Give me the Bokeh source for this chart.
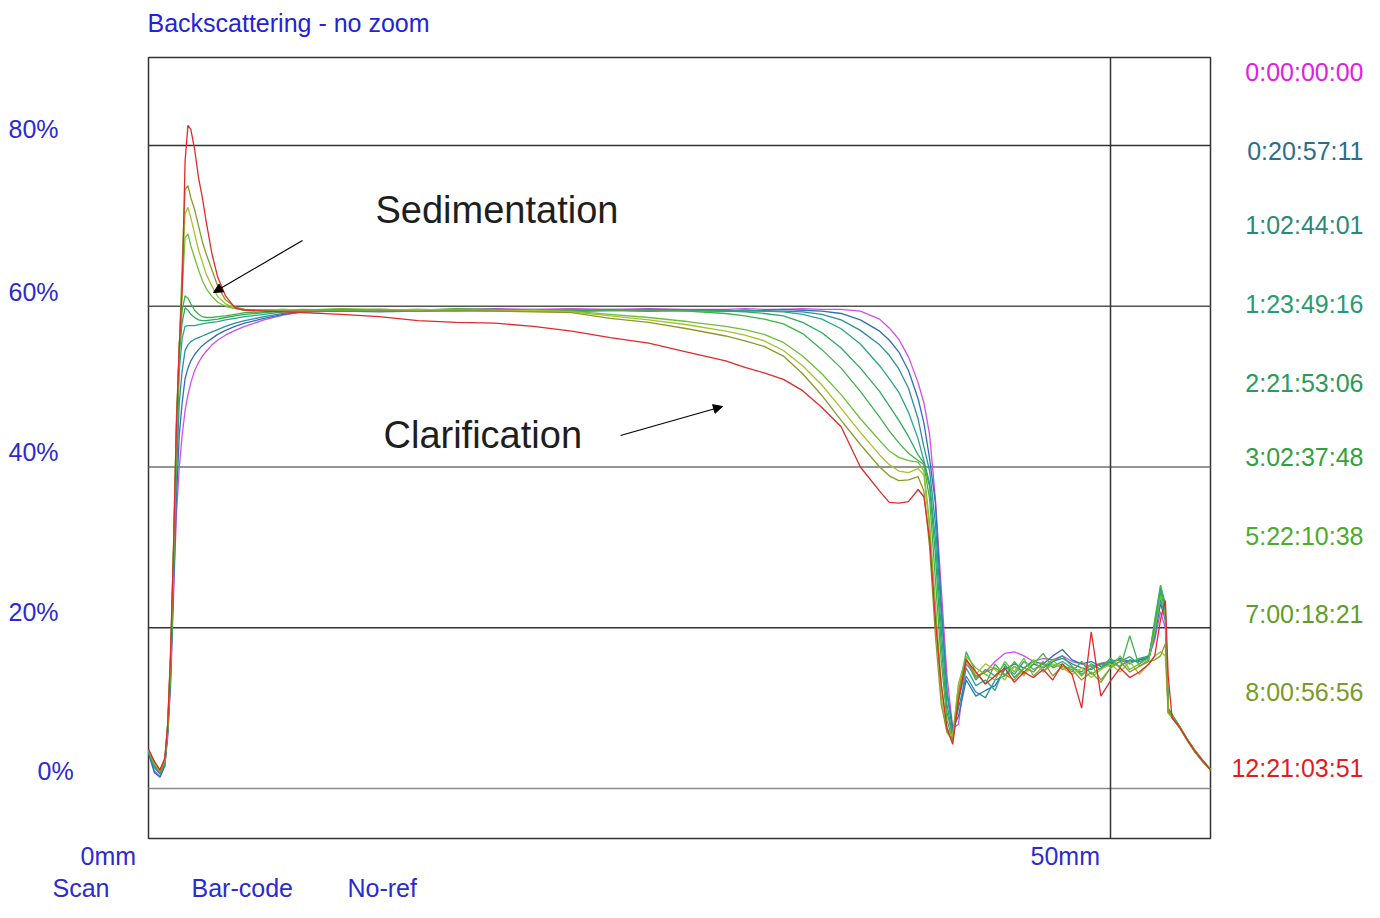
from bokeh.plotting import figure
from bokeh.models import Range1d, Arrow, NormalHead
from bokeh.core.properties import value
from bokeh.embed import file_html
from bokeh.resources import INLINE

# ---------------- data ----------------
position_mm = (
    [0.0, 0.3, 0.6, 0.85, 1.0, 1.15, 1.3, 1.45, 1.6, 1.75, 1.9, 2.05, 2.2, 2.4, 2.6, 2.8, 3.0, 3.3, 3.6, 4.0, 4.5, 5.0]
    + [6, 7, 8, 10, 12, 14, 16, 18, 20, 22, 24, 26, 28]
    + [30, 31, 32, 33, 34, 35, 36, 37, 38, 38.5, 39, 39.5, 40, 40.3, 40.6, 40.9, 41.2, 41.5, 41.8, 42.1]
    + [42.5, 43.0, 43.5, 44.0, 44.5, 45.0, 45.5, 46.0, 46.5, 47.0, 47.5, 48.0, 48.5, 49.0, 49.5, 50.0, 50.5, 51.0, 51.5, 52.0]
    + [52.3, 52.6, 52.85, 53.0, 53.2, 53.6, 54.0, 54.4, 54.8, 55.2]
)

times = ["0:00:00:00", "0:20:57:11", "1:02:44:01", "1:23:49:16", "2:21:53:06",
         "3:02:37:48", "5:22:10:38", "7:00:18:21", "8:00:56:56", "12:21:03:51"]

bs_0_00_00_00 = (
    [4.5, 2.2, 1.5, 2.8, 6.5, 13.0, 24.0, 34.0, 40.0, 44.0, 47.0, 49.0, 50.5, 52.0, 53.0, 53.8, 54.4, 55.2, 55.8, 56.4, 57.0, 57.5]
    + [58.3, 58.9, 59.3, 59.5, 59.6, 59.5, 59.6, 59.7, 59.6, 59.7, 59.6, 59.7, 59.6]
    + [59.6, 59.7, 59.6, 59.6, 59.7, 59.6, 59.6, 59.4, 58.4, 57.3, 55.9, 53.7, 50.5, 48.0, 44.0, 36.0, 25.0, 14.0, 7.5, 8.0]
    + [15.5, 14.0, 14.5, 15.8, 16.8, 17.0, 16.5, 15.8, 16.2, 16.0, 16.5, 15.8, 15.5, 15.2, 15.6, 15.8, 16.0, 15.7, 16.0, 16.4]
    + [18.5, 22.0, 20.0, 9.5, 9.0, 7.6, 6.0, 4.6, 3.4, 2.3]
)
bs_0_20_57_11 = (
    [4.4, 2.0, 1.4, 2.9, 6.8, 13.5, 25.0, 36.0, 44.0, 48.0, 51.0, 52.3, 53.2, 54.0, 54.6, 55.1, 55.5, 56.0, 56.5, 57.0, 57.5, 57.9]
    + [58.5, 59.0, 59.3, 59.4, 59.5, 59.4, 59.5, 59.6, 59.5, 59.4, 59.5, 59.6, 59.5]
    + [59.5, 59.4, 59.5, 59.6, 59.5, 59.4, 59.1, 58.3, 56.9, 55.8, 54.3, 52.0, 48.5, 45.5, 41.0, 35.5, 23.0, 12.0, 7.5, 9.0]
    + [13.5, 11.5, 12.2, 12.8, 14.8, 15.5, 15.0, 15.8, 15.5, 16.5, 17.3, 16.0, 15.5, 15.8, 15.2, 15.5, 16.2, 15.8, 16.0, 16.3]
    + [19.0, 23.0, 21.0, 10.0, 9.2, 7.7, 6.1, 4.7, 3.5, 2.3]
)
bs_1_02_44_01 = (
    [4.6, 2.6, 1.8, 3.1, 7.2, 14.5, 26.0, 39.0, 48.0, 52.0, 54.5, 55.2, 55.6, 55.9, 56.1, 56.3, 56.5, 56.8, 57.1, 57.5, 57.9, 58.2]
    + [58.7, 59.1, 59.3, 59.4, 59.3, 59.4, 59.5, 59.4, 59.5, 59.4, 59.5, 59.4, 59.5]
    + [59.4, 59.5, 59.4, 59.4, 59.3, 59.0, 58.3, 57.0, 55.2, 53.9, 52.2, 49.8, 46.0, 42.5, 39.5, 33.0, 22.0, 12.0, 7.0, 10.0]
    + [14.0, 12.0, 11.3, 13.5, 14.0, 15.2, 14.5, 15.5, 15.0, 15.8, 16.2, 15.5, 15.0, 14.8, 15.5, 15.7, 15.2, 16.0, 15.8, 16.2]
    + [19.5, 23.5, 21.5, 9.8, 9.0, 7.6, 6.0, 4.6, 3.4, 2.3]
)
bs_1_23_49_16 = (
    [4.7, 2.8, 1.9, 3.2, 7.4, 15.0, 27.0, 41.0, 52.0, 56.0, 57.5, 57.6, 57.6, 57.6, 57.7, 57.8, 57.9, 58.0, 58.1, 58.3, 58.5, 58.7]
    + [59.0, 59.3, 59.4, 59.5, 59.4, 59.5, 59.4, 59.5, 59.5, 59.4, 59.5, 59.4, 59.5]
    + [59.4, 59.5, 59.4, 59.3, 59.0, 58.4, 57.2, 55.3, 52.6, 51.0, 49.3, 46.8, 43.5, 40.8, 38.0, 31.0, 20.0, 10.5, 6.5, 11.0]
    + [15.0, 12.8, 13.5, 12.2, 15.2, 14.2, 15.8, 14.8, 15.5, 15.2, 15.8, 15.0, 14.5, 15.5, 14.8, 15.9, 16.0, 15.5, 16.2, 16.5]
    + [20.0, 24.5, 22.0, 9.5, 8.8, 7.5, 6.0, 4.5, 3.3, 2.3]
)
bs_2_21_53_06 = (
    [4.7, 2.9, 2.0, 3.3, 7.5, 15.2, 27.5, 42.0, 54.0, 58.0, 59.8, 59.5, 59.0, 58.6, 58.3, 58.2, 58.2, 58.3, 58.4, 58.6, 58.8, 59.0]
    + [59.2, 59.4, 59.5, 59.4, 59.5, 59.6, 59.5, 59.5, 59.6, 59.5, 59.6, 59.5, 59.5]
    + [59.4, 59.3, 59.1, 58.8, 58.0, 56.7, 54.8, 52.3, 49.4, 47.6, 45.8, 43.8, 41.5, 40.5, 37.5, 29.0, 18.0, 9.5, 6.5, 11.0]
    + [16.0, 13.5, 14.8, 14.0, 15.5, 13.8, 15.0, 16.0, 14.5, 15.8, 16.5, 15.2, 14.2, 15.0, 15.5, 15.2, 15.8, 16.4, 15.5, 16.6]
    + [20.5, 25.0, 22.5, 9.6, 9.0, 7.6, 6.1, 4.6, 3.4, 2.3]
)
bs_3_02_37_48 = (
    [4.8, 3.0, 2.1, 3.4, 7.6, 15.5, 28.0, 43.0, 55.0, 59.5, 61.3, 61.0, 60.3, 59.5, 59.0, 58.7, 58.6, 58.6, 58.7, 58.8, 59.0, 59.2]
    + [59.3, 59.5, 59.6, 59.5, 59.6, 59.5, 59.7, 59.6, 59.5, 59.6, 59.5, 59.5, 59.4]
    + [59.1, 58.8, 58.4, 57.8, 56.6, 54.6, 52.3, 49.4, 46.2, 44.5, 43.0, 41.7, 40.8, 40.3, 36.0, 26.0, 16.0, 8.5, 6.0, 12.0]
    + [17.0, 14.5, 13.0, 15.5, 14.0, 15.8, 14.2, 15.5, 16.8, 15.0, 15.5, 14.5, 15.8, 14.2, 15.0, 16.2, 15.0, 19.0, 15.2, 16.0]
    + [21.0, 25.3, 23.0, 9.8, 9.2, 7.7, 6.0, 4.5, 3.4, 2.3]
)
bs_5_22_10_38 = (
    [4.8, 3.1, 2.2, 3.5, 7.8, 16.0, 29.0, 44.0, 55.0, 62.0, 68.5, 69.0, 67.5, 66.0, 64.5, 63.2, 62.2, 61.2, 60.5, 60.0, 59.7, 59.5]
    + [59.5, 59.6, 59.5, 59.7, 59.6, 59.5, 59.6, 59.5, 59.4, 59.4, 59.0, 58.6, 58.1]
    + [57.5, 57.1, 56.5, 55.5, 53.8, 51.6, 49.0, 46.0, 43.3, 42.0, 41.2, 40.8, 40.6, 39.5, 33.0, 23.0, 13.0, 7.5, 6.5, 13.0]
    + [16.5, 15.0, 14.2, 13.5, 15.8, 14.5, 16.2, 14.0, 15.2, 16.0, 14.8, 15.2, 14.0, 15.5, 13.5, 15.0, 16.5, 14.8, 15.5, 16.2]
    + [19.5, 24.0, 21.5, 9.5, 8.8, 7.5, 5.9, 4.5, 3.3, 2.3]
)
bs_7_00_18_21 = (
    [4.8, 3.2, 2.2, 3.6, 8.0, 16.5, 29.5, 45.0, 55.0, 63.0, 71.5, 72.3, 71.0, 69.0, 67.0, 65.5, 64.0, 62.5, 61.2, 60.3, 59.8, 59.6]
    + [59.5, 59.6, 59.5, 59.6, 59.5, 59.6, 59.5, 59.4, 59.5, 59.3, 58.8, 58.3, 57.7]
    + [56.9, 56.4, 55.7, 54.5, 52.6, 50.2, 47.3, 44.3, 41.5, 40.3, 39.5, 39.3, 39.8, 39.0, 32.0, 21.0, 11.5, 7.0, 6.5, 13.0]
    + [15.8, 14.2, 15.5, 14.8, 13.5, 15.2, 14.0, 16.0, 14.5, 15.5, 15.0, 14.2, 15.0, 13.8, 14.8, 15.5, 14.5, 15.8, 14.2, 15.5]
    + [16.5, 17.0, 16.5, 9.3, 8.9, 7.6, 6.0, 4.6, 3.4, 2.3]
)
bs_8_00_56_56 = (
    [4.8, 3.3, 2.3, 3.7, 8.2, 17.0, 30.0, 46.0, 55.0, 65.0, 74.5, 75.0, 73.5, 72.0, 70.0, 68.0, 66.5, 64.5, 62.5, 60.8, 59.9, 59.6]
    + [59.5, 59.4, 59.5, 59.6, 59.5, 59.4, 59.5, 59.4, 59.3, 59.2, 58.5, 58.0, 57.2]
    + [56.3, 55.7, 55.0, 53.8, 51.6, 48.9, 45.8, 42.8, 40.0, 38.9, 38.3, 38.4, 38.8, 37.0, 30.0, 19.0, 10.5, 7.0, 6.0, 12.0]
    + [16.2, 13.8, 14.5, 15.0, 14.2, 13.5, 15.0, 14.5, 15.8, 14.0, 15.2, 14.8, 13.5, 14.5, 13.2, 15.0, 15.8, 14.5, 15.2, 15.8]
    + [16.0, 16.5, 18.0, 9.5, 9.0, 7.7, 6.1, 4.7, 3.5, 2.4]
)
bs_12_21_03_51 = (
    [4.9, 3.4, 2.3, 3.8, 8.0, 17.0, 30.0, 45.0, 55.0, 62.0, 78.0, 82.5, 82.0, 79.5, 76.0, 73.5, 70.5, 66.5, 63.6, 61.3, 59.8, 59.5]
    + [59.4, 59.3, 59.2, 59.0, 58.7, 58.2, 58.0, 57.9, 57.5, 56.9, 56.1, 55.4, 54.3]
    + [53.2, 52.4, 51.7, 50.9, 49.5, 47.4, 45.0, 40.0, 37.0, 35.6, 35.5, 35.7, 37.2, 36.3, 31.0, 21.0, 13.0, 7.5, 5.5, 11.0]
    + [16.0, 14.5, 13.0, 14.0, 15.0, 13.2, 14.5, 13.8, 14.8, 13.5, 15.5, 14.2, 10.0, 19.5, 11.5, 13.4, 15.0, 13.8, 14.5, 15.5]
    + [16.5, 21.0, 23.4, 14.0, 8.8, 7.6, 6.0, 4.6, 3.4, 2.3]
)

series = [bs_0_00_00_00, bs_0_20_57_11, bs_1_02_44_01, bs_1_23_49_16, bs_2_21_53_06,
          bs_3_02_37_48, bs_5_22_10_38, bs_7_00_18_21, bs_8_00_56_56, bs_12_21_03_51]

y_ticks = [0, 20, 40, 60, 80]
y_tick_labels = ["0%", "20%", "40%", "60%", "80%"]
x_ticks = [0, 50]
x_tick_labels = ["0mm", "50mm"]
footer_labels = ["Scan", "Bar-code", "No-ref"]

# ---------------- styles / layout ----------------
line_colors = ["#d24fe6", "#2f6fb5", "#2a8fa0", "#2aa58a", "#30a860",
               "#3fb24a", "#6cbf3a", "#a4c22a", "#8a9a2a", "#e02a2a"]
label_colors = ["#e020e0", "#2a6e8c", "#2a8a7a", "#2a9a70", "#2a9a58",
                "#33a040", "#4caa2c", "#5e9e28", "#7a9a2a", "#e01e1e"]

W, H = 1364, 902


def mm(px):
    return (px - 148) / 19.24


def pct(py):
    return (788 - py) / 8.0375


X_MAX = mm(1210)
Y_TOP = pct(57)
Y_BOT = pct(838)

p = figure(width=W, height=H, output_backend="svg", toolbar_location=None,
           x_range=Range1d(mm(0), mm(W)), y_range=Range1d(pct(H), pct(0)),
           x_axis_location=None, y_axis_location=None, min_border=0)
p.grid.visible = False
p.outline_line_color = None
p.background_fill_color = "white"
p.border_fill_color = "white"

FONT = value("Liberation Sans")

# frame & grid
p.quad(left=[0], right=[X_MAX], bottom=[Y_BOT], top=[Y_TOP], fill_color=None,
       line_color="#333333", line_width=1.5)
grid_colors = ["#8a8a8a", "#333333", "#707070", "#555555", "#333333"]
p.segment(x0=[0] * len(y_ticks), x1=[X_MAX] * len(y_ticks), y0=y_ticks, y1=y_ticks,
          line_color=grid_colors, line_width=1.5)
p.segment(x0=[x_ticks[1]], x1=[x_ticks[1]], y0=[Y_BOT], y1=[Y_TOP], line_color="#333333", line_width=1.5)

# curves
for vals, col in zip(series, line_colors):
    assert len(vals) == len(position_mm), (len(vals), len(position_mm))
    p.line(position_mm, vals, line_color=col, line_width=1.3)

# legend labels (time stamps)
legend_y_px = [71, 150, 224, 303, 382, 456, 535, 613, 691, 767]
p.text(x=[mm(1363)] * len(times), y=[pct(v) for v in legend_y_px], text=times,
       text_color=label_colors, text_font=FONT, text_font_size="25px",
       text_align="right", text_baseline="middle")

# y tick labels
ylab_left_px = [37, 8, 8, 8, 8]
ylab_y_px = [770, 611, 451, 291, 128]
p.text(x=[mm(v) for v in ylab_left_px], y=[pct(v) for v in ylab_y_px], text=y_tick_labels,
       text_color="#2b2bd0", text_font=FONT, text_font_size="25px",
       text_align="left", text_baseline="middle")

# x tick labels
p.text(x=[mm(80), mm(1030)], y=[pct(855), pct(855)], text=x_tick_labels,
       text_color="#2b2bd0", text_font=FONT, text_font_size="25px",
       text_align="left", text_baseline="middle")

# footer
p.text(x=[mm(52), mm(191), mm(347)], y=[pct(887)] * 3, text=footer_labels,
       text_color="#2b2bd0", text_font=FONT, text_font_size="25px",
       text_align="left", text_baseline="middle")

# title
p.text(x=[mm(147)], y=[pct(22)], text=["Backscattering - no zoom"],
       text_color="#2323d8", text_font=FONT, text_font_size="25px",
       text_align="left", text_baseline="middle")

# annotations
p.text(x=[mm(375), mm(383)], y=[pct(209), pct(434)], text=["Sedimentation", "Clarification"],
       text_color="#1e1e1e", text_font=FONT, text_font_size="38px",
       text_align="left", text_baseline="middle")
p.add_layout(Arrow(end=NormalHead(size=9, fill_color="black", line_color="black"),
                   x_start=mm(302), y_start=pct(240), x_end=mm(213), y_end=pct(292),
                   line_color="black", line_width=1.2))
p.add_layout(Arrow(end=NormalHead(size=9, fill_color="black", line_color="black"),
                   x_start=mm(620), y_start=pct(435), x_end=mm(722), y_end=pct(406),
                   line_color="black", line_width=1.2))

open("out.html", "w").write(file_html(p, INLINE))
